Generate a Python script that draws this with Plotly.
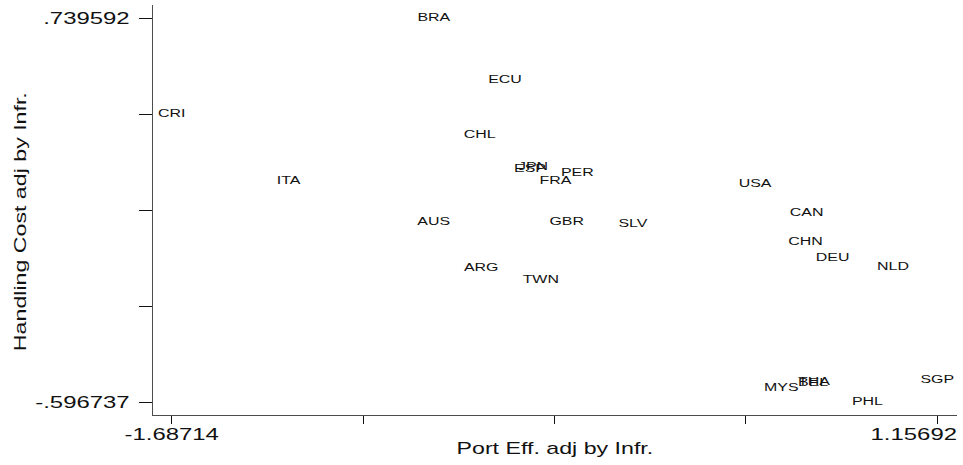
import numpy as np
import plotly.graph_objects as go

# Country codes with port efficiency (x) and handling cost (y), both adjusted by infrastructure
countries = ["CRI", "BRA", "ECU", "CHL", "ESP", "JPN", "PER", "FRA", "ITA", "USA",
             "AUS", "GBR", "SLV", "CAN", "CHN", "DEU", "NLD", "ARG", "TWN", "MYS",
             "THA", "BEL", "SGP", "PHL"]
port_eff = [-1.68714, -0.7128, -0.4490, -0.5430, -0.3561, -0.3450, -0.1804, -0.2607,
            -1.2525, 0.4805, -0.7139, -0.2198, 0.0265, 0.6717, 0.6673, 0.7683,
            0.9923, -0.5374, -0.3160, 0.5774, 0.6989, 0.6952, 1.15692, 0.8976]
handling_cost = [0.4042, 0.739592, 0.5249, 0.3335, 0.2152, 0.2222, 0.2013, 0.1724,
                 0.1724, 0.1630, 0.0308, 0.0308, 0.0214, 0.0621, -0.0388, -0.0969,
                 -0.1257, -0.1292, -0.1734, -0.5468, -0.5269, -0.5294, -0.5200, -0.596737]

# Axis ticks: five evenly spaced, only the extremes are labelled
x_min, x_max = -1.68714, 1.15692
y_min, y_max = -0.596737, 0.739592
x_ticks = list(np.linspace(x_min, x_max, 5))
y_ticks = list(np.linspace(y_min, y_max, 5))
x_tick_text = ["-1.68714", "", "", "", "1.15692"]
y_tick_text = ["-.596737", "", "", "", ".739592"]

x_title = "Port Eff. adj by Infr."
y_title = "Handling Cost adj by Infr."

FONT = "Liberation Sans, Arial, sans-serif"
INK = "#111111"
AXIS = "#4d4d4d"

fig = go.Figure()
fig.add_trace(go.Scatter(
    x=port_eff, y=handling_cost, text=countries,
    mode="text", textposition="middle center",
    textfont=dict(family=FONT, size=11, color=INK),
    hoverinfo="skip", showlegend=False,
))

fig.update_layout(
    width=963, height=465, autosize=False,
    margin=dict(l=153, r=6, t=5, b=50),
    plot_bgcolor="white", paper_bgcolor="white",
    font=dict(family=FONT, color=INK),
    xaxis=dict(
        range=[-1.7566, 1.2301], showgrid=False, zeroline=False, automargin=False,
        showline=True, linecolor=AXIS, linewidth=1,
        ticks="outside", ticklen=8, tickcolor=INK, tickwidth=1,
        tickmode="array", tickvals=x_ticks, ticktext=x_tick_text,
        tickfont=dict(family=FONT, size=16.5, color=INK),
        ticklabelstandoff=-4, ticklabeloverflow="allow",
    ),
    yaxis=dict(
        range=[-0.6409, 0.7859], showgrid=False, zeroline=False, automargin=False,
        showline=True, linecolor=AXIS, linewidth=1,
        ticks="outside", ticklen=13, tickcolor=INK, tickwidth=1,
        tickmode="array", tickvals=y_ticks, ticktext=y_tick_text,
        tickfont=dict(family=FONT, size=16.5, color=INK),
        ticklabelstandoff=6,
    ),
    annotations=[
        dict(text=x_title, xref="paper", yref="paper", x=0.5, y=-0.0805,
             xanchor="center", yanchor="middle", showarrow=False,
             font=dict(family=FONT, size=16, color=INK)),
        dict(text=y_title, xref="paper", yref="paper", x=-0.1654, y=0.4707,
             xanchor="center", yanchor="middle", textangle=-90, showarrow=False,
             font=dict(family=FONT, size=16, color=INK)),
    ],
)

# The graph lettering is set wide: stretch each text along its reading
# direction around its anchor, and keep the x tick labels inside the frame.
widen_js = """
var gd = document.getElementById('{plot_id}');
var k = 1.45;
gd.querySelectorAll('svg.main-svg text').forEach(function (t) {
  if (!t.textContent) return;
  var b = t.getBBox();
  var a = t.getAttribute('text-anchor') || window.getComputedStyle(t).textAnchor || 'start';
  var ox = b.x + (a === 'end' ? b.width : (a === 'middle' ? b.width / 2 : 0));
  var tr = t.getAttribute('transform') || '';
  t.setAttribute('transform', tr + ' translate(' + ox + ',0) scale(' + k + ',1) translate(' + (-ox) + ',0)');
});
var sz = gd._fullLayout._size;
var right = sz.l + sz.w;
var svgLeft = gd.querySelector('svg.main-svg').getBoundingClientRect().left;
gd.querySelectorAll('.xtick text').forEach(function (t) {
  var r = t.getBoundingClientRect().right - svgLeft;
  if (r > right) {
    var tr = t.getAttribute('transform') || '';
    t.setAttribute('transform', 'translate(' + (right - r) + ',0) ' + tr);
  }
});
"""

fig.write_html("out.html", config={"staticPlot": True}, post_script=widen_js)
